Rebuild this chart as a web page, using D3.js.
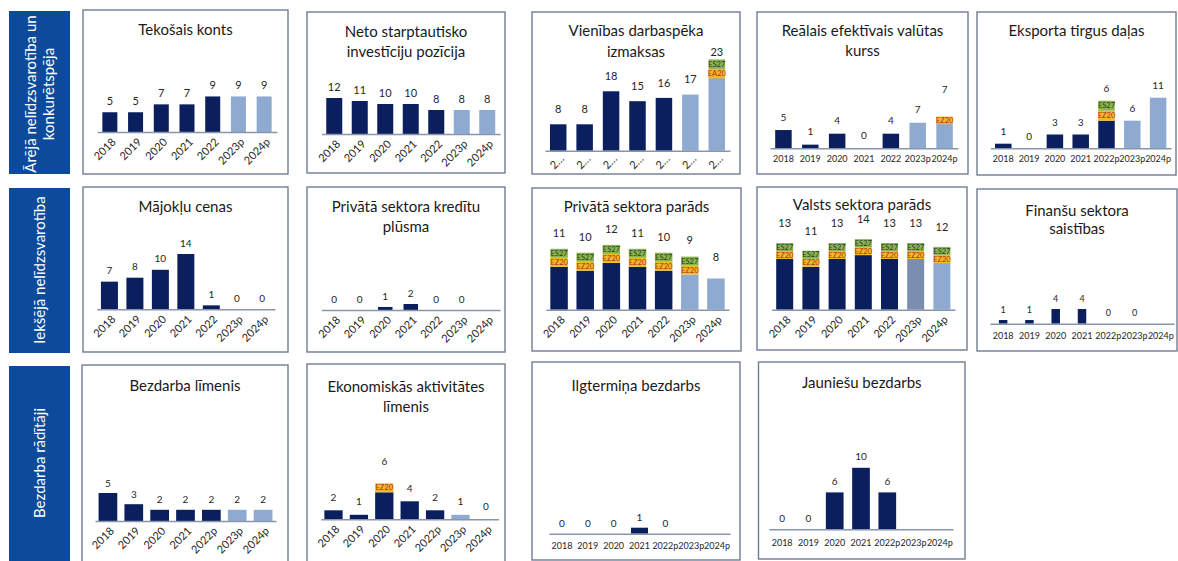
<!DOCTYPE html>
<html><head><meta charset="utf-8">
<script src="https://cdn.jsdelivr.net/npm/d3@7"></script>
<style>body{margin:0;background:#fff;} svg{display:block;font-family:Lato,"Open Sans",sans-serif;}</style>
</head><body><script>
// ---- categories ----
const yearsA = ["2018","2019","2020","2021","2022","2023p","2024p"];
const yearsB = ["2018","2019","2020","2021","2022p","2023p","2024p"];
// ---- values (ranks) ----
const tekosaisKonts    = [5,5,7,7,9,9,9];
const netoSIP          = [12,11,10,10,8,8,8];
const vienibasDI       = [8,8,18,15,16,17,23];
const realaisEVK       = [5,1,4,0,4,7,7];
const eksportaTD       = [1,0,3,3,6,6,11];
const majokluCenas     = [7,8,10,14,1,0,0];
const kredituPlusma    = [0,0,1,2,0,0,null];
const privataParads    = [11,10,12,11,10,9,8];
const valstsParads     = [13,11,13,14,13,13,12];
const finansuSaistibas = [1,1,4,4,0,0,null];
const bezdarbaLimenis  = [5,3,2,2,2,2,2];
const ekonAktivitate   = [2,1,6,4,2,1,0];
const ilgtermBezdarbs  = [0,0,0,1,0,null,null];
const jauniesuBezdarbs = [0,0,6,10,6,null,null];
// ---- bar kinds: a = actual, f = forecast, m = forecast (medium) ----
const kindsStd   = ["a","a","a","a","a","f","f"];
const kindsValsts= ["a","a","a","a","a","m","f"];
// ---- threshold flags ----
const flagsVienibas = [[],[],[],[],[],[],["EA20","ES27"]];
const flagsRealais  = [[],[],[],[],[],[],["EZ20"]];
const flagsEksporta = [[],[],[],[],["EZ20","ES27"],[],[]];
const flagsPrivata  = [["EZ20","ES27"],["EZ20","ES27"],["EZ20","ES27"],["EZ20","ES27"],["EZ20","ES27"],["EZ20","ES27"],[]];
const flagsValsts   = [["EZ20","ES27"],["EZ20","ES27"],["EZ20","ES27"],["EZ20","ES27"],["EZ20","ES27"],["EZ20","ES27"],["EZ20","ES27"]];
const flagsEkon     = [[],[],["EZ20"],[],[],[],[]];
// ---- group labels ----
const groupLabels = [["Ārējā nelīdzsvarotība un","konkurētspēja"],["Iekšējā nelīdzsvarotība"],["Bezdarba rādītāji"]];

const colorOf = {a:"#0b1f5e", f:"#8faad0", m:"#7b8eb0"};
const flagFill = {EZ20:"#f3b825", EA20:"#f3b825", ES27:"#8db255"};
const flagText = {EZ20:"#a8301a", EA20:"#a8301a", ES27:"#23400f"};

const svg = d3.select("body").append("svg").attr("width",1178).attr("height",561);

// group side boxes
const sideCfg = [
  {box:[9,11,61,163], cx:40, cy:94, lh:18},
  {box:[9,188,61,165], cx:40, cy:270, lh:18},
  {box:[9,366,61,200], cx:40, cy:463, lh:18}
];
sideCfg.forEach((s,i)=>{
  svg.append("rect").attr("x",s.box[0]).attr("y",s.box[1]).attr("width",s.box[2]).attr("height",s.box[3]).attr("fill","#0c4b9c");
  const lines = groupLabels[i];
  const g = svg.append("g").attr("transform",`translate(${s.cx},${s.cy}) rotate(-90)`);
  lines.forEach((t,j)=>{
    g.append("text").attr("x",0).attr("y",(j-(lines.length-1)/2)*s.lh).attr("dy","0.35em")
      .attr("text-anchor","middle").attr("fill","#fff").attr("font-size",15).text(t);
  });
});

function drawPanel(c){
  const g = svg.append("g");
  g.append("rect").attr("x",c.box[0]).attr("y",c.box[1]).attr("width",c.box[2]).attr("height",c.box[3])
    .attr("fill","#fff").attr("stroke","#6f7d93").attr("stroke-width",1.4);
  c.title.forEach((t,i)=> g.append("text").attr("x", c.box[0]+c.box[2]/2).attr("y", c.titleY[i]).attr("dy","0.35em")
     .attr("text-anchor","middle").attr("font-size", c.titleSize||15).attr("fill","#1a1a1a").text(t));
  const n = c.cats.length;
  const step = (c.xr[1]-c.xr[0])/n;
  const pad = 1 - c.barW/step;
  const x = d3.scaleBand().domain(c.cats).range(c.xr).paddingInner(pad).paddingOuter(pad/2);
  const y = d3.scaleLinear().domain([0,10]).range([c.base, c.base - 10*c.ppu]);
  const data = c.cats.map((cat,i)=>({cat, v:c.vals[i], k:c.kinds[i], f:(c.flags && c.flags[i])||[]}));
  g.selectAll("rect.bar").data(data.filter(d=>d.v!=null && d.v>0)).join("rect").attr("class","bar")
    .attr("x",d=>x(d.cat)).attr("width",x.bandwidth()).attr("y",d=>y(d.v)).attr("height",d=>c.base-y(d.v))
    .attr("fill",d=>colorOf[d.k]);
  const sink = c.boxSink||0;
  data.forEach(d=>{
    d.f.forEach((tag,j)=>{
      const yb = y(d.v) + sink - (j+1)*c.boxH;
      g.append("rect").attr("x",x(d.cat)).attr("y",yb).attr("width",x.bandwidth()).attr("height",c.boxH).attr("fill",flagFill[tag]);
      g.append("text").attr("x",x(d.cat)+x.bandwidth()/2).attr("y",yb+c.boxH/2).attr("dy","0.35em")
        .attr("text-anchor","middle").attr("font-size",c.boxFont||7.5).attr("fill",flagText[tag]).text(tag);
    });
  });
  g.selectAll("text.val").data(data.filter(d=>d.v!=null)).join("text").attr("class","val")
    .attr("x",d=>x(d.cat)+x.bandwidth()/2)
    .attr("y",d=> d.f.length ? y(d.v)+sink-d.f.length*c.boxH - c.boxLabelOff : y(d.v)-c.labelOff)
    .attr("dy","0.35em").attr("text-anchor","middle").attr("font-size",c.valFont).attr("fill","#262626").text(d=>d.v);
  const ax = g.append("g").attr("transform",`translate(0,${c.base})`)
    .call(d3.axisBottom(x).tickSize(0).tickSizeOuter(0).tickFormat(c.fmt||(d=>d)));
  ax.attr("font-family","Lato, sans-serif");
  ax.select(".domain").attr("stroke","#8796ad").attr("stroke-width",1.5);
  ax.selectAll(".tick text").attr("font-size",c.axFont).attr("fill","#262626");
  if(c.xlab==="rot"){
    ax.selectAll(".tick text").attr("text-anchor","end").attr("x",0).attr("y",0).attr("dy","0.35em")
      .attr("transform",`translate(${c.rotDx||4},${c.rotDy||8}) rotate(-45)`);
  } else {
    ax.selectAll(".tick text").attr("y",c.axY).attr("dy","0.35em");
  }
}

const panels = [
  {title:["Tekošais konts"], box:[83,10,205,164], titleY:[30], base:132, xr:[97,277], ppu:3.95, barW:15,
   labelOff:11, valFont:11, axFont:11, xlab:"rot", cats:yearsA, vals:tekosaisKonts, kinds:kindsStd},
  {title:["Neto starptautisko","investīciju pozīcija"], box:[307,12,198,161], titleY:[31.5,51.5], base:134, xr:[321.5,500], ppu:3, barW:16,
   labelOff:11, valFont:11, axFont:11, xlab:"rot", cats:yearsA, vals:netoSIP, kinds:kindsStd},
  {title:["Vienības darbaspēka","izmaksas"], box:[532,12,208,162], titleY:[31,51.5], base:150.7, xr:[545,730], ppu:3.3, barW:16.5,
   labelOff:15, boxLabelOff:7, boxH:9.5, boxSink:3.6, valFont:11, axFont:11, xlab:"rot", rotDy:6, fmt:d=>d[0]+"…",
   cats:yearsA, vals:vienibasDI, kinds:kindsStd, flags:flagsVienibas},
  {title:["Reālais efektīvais valūtas","kurss"], box:[757,12,211,162], titleY:[31,51], base:148.3, xr:[770,958], ppu:3.65, barW:16.5,
   labelOff:13, boxLabelOff:27, boxH:7.5, boxSink:1.3, valFont:10, axFont:9, xlab:"hor", axY:11,
   cats:yearsA, vals:realaisEVK, kinds:kindsStd, flags:flagsRealais},
  {title:["Eksporta tirgus daļas"], box:[977,12,199,163], titleY:[31], base:148.3, xr:[990.4,1171], ppu:4.6, barW:16.5,
   labelOff:12, boxLabelOff:12, boxH:10, valFont:10, axFont:9, xlab:"hor", axY:11,
   cats:yearsB, vals:eksportaTD, kinds:kindsStd, flags:flagsEksporta},

  {title:["Mājokļu cenas"], box:[83,187,205,165], titleY:[207], base:309.3, xr:[96.7,275], ppu:3.95, barW:17,
   labelOff:11, valFont:10, axFont:11, xlab:"rot", cats:yearsA, vals:majokluCenas, kinds:kindsStd},
  {title:["Privātā sektora kredītu","plūsma"], box:[307,187,198,165], titleY:[207,227], base:310, xr:[321.5,500], ppu:3, barW:14.5,
   labelOff:11, valFont:10, axFont:11, xlab:"rot", cats:yearsA, vals:kredituPlusma, kinds:kindsStd},
  {title:["Privātā sektora parāds"], box:[532,188,209,163], titleY:[206.5], base:309.7, xr:[546,729], ppu:3.9, barW:17.5,
   labelOff:21, boxLabelOff:16, boxH:9, valFont:11, axFont:11, xlab:"rot",
   cats:yearsA, vals:privataParads, kinds:kindsStd, flags:flagsPrivata},
  {title:["Valsts sektora parāds"], box:[757,187,210,163], titleY:[205], base:309.7, xr:[771.6,955], ppu:3.9, barW:17,
   labelOff:21, boxLabelOff:19.5, boxH:8, valFont:11, axFont:11, xlab:"rot",
   cats:yearsA, vals:valstsParads, kinds:kindsValsts, flags:flagsValsts},
  {title:["Finanšu sektora","saistības"], box:[977,189,200,162], titleY:[210.3,229], base:323.7, xr:[990,1174], ppu:3.67, barW:8.5,
   labelOff:10.5, valFont:9, axFont:9, xlab:"hor", axY:12.5, titleSize:15,
   cats:yearsB, vals:finansuSaistibas, kinds:kindsStd},

  {title:["Bezdarba līmenis"], box:[82,365,206,205], titleY:[386], base:521, xr:[95,276], ppu:5.6, barW:18.7,
   labelOff:10, valFont:10, axFont:11, xlab:"rot", cats:yearsB, vals:bezdarbaLimenis, kinds:kindsStd},
  {title:["Ekonomiskās aktivitātes","līmenis"], box:[307,364,198,205], titleY:[387,407], base:519.3, xr:[320.8,498.6], ppu:4.5, barW:18.3,
   labelOff:13, boxLabelOff:22, boxH:9, valFont:10, axFont:11, xlab:"rot",
   cats:yearsB, vals:ekonAktivitate, kinds:kindsStd, flags:flagsEkon},
  {title:["Ilgtermiņa bezdarbs"], box:[532,362,208,198], titleY:[385.3], base:533.7, xr:[549,730], ppu:6, barW:17,
   labelOff:10, valFont:10, axFont:9, xlab:"hor", axY:12,
   cats:yearsB, vals:ilgtermBezdarbs, kinds:kindsStd},
  {title:["Jauniešu bezdarbs"], box:[758.5,362,206.5,197], titleY:[382.7], base:529.3, xr:[769,953], ppu:6.15, barW:17.7,
   labelOff:11, valFont:10, axFont:9, xlab:"hor", axY:14,
   cats:yearsB, vals:jauniesuBezdarbs, kinds:kindsStd}
];
panels.forEach(drawPanel);
</script></body></html>
